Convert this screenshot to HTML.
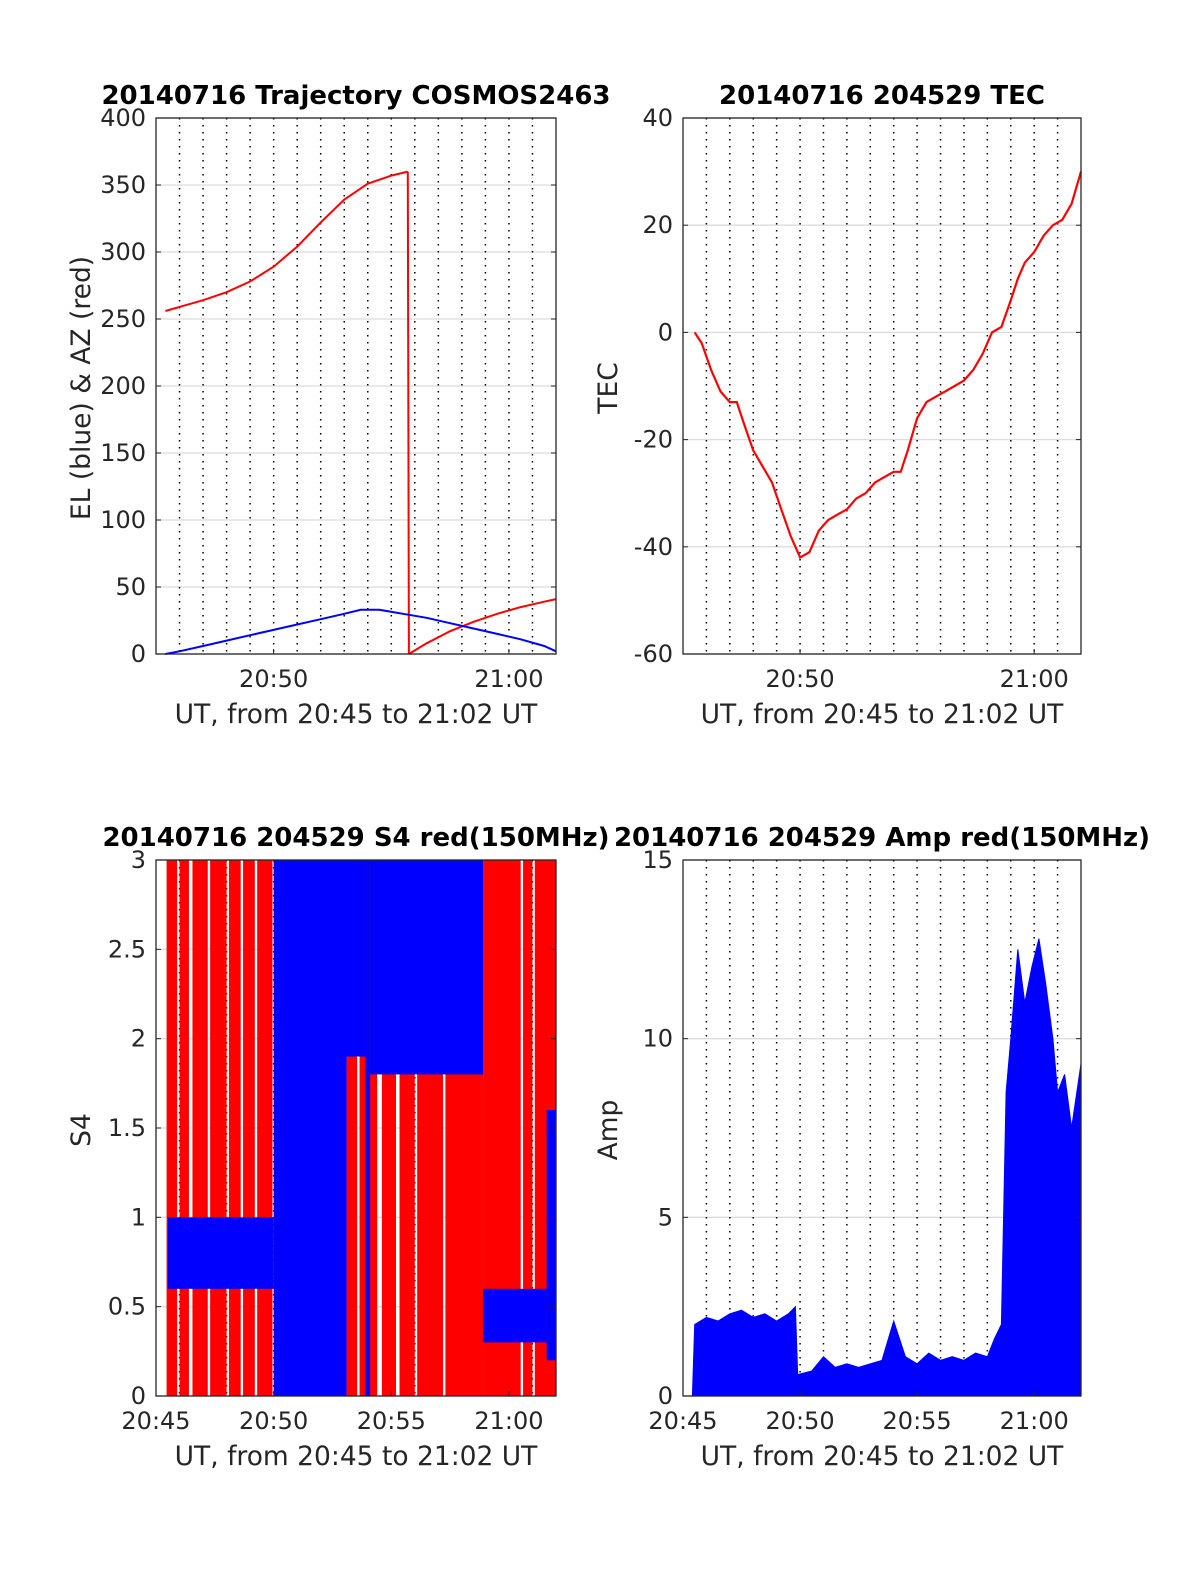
<!DOCTYPE html>
<html><head><meta charset="utf-8"><style>
body{margin:0;background:#fff}
svg text{font-family:"DejaVu Sans","Liberation Sans",sans-serif;fill:#262626}
</style></head><body>
<svg id="fig" width="1200" height="1575" viewBox="0 0 1200 1575" xmlns="http://www.w3.org/2000/svg"></svg>
<script>
// ---- data (minutes after 20:00) ----
const azTimes=[45.4,46,47,48,49,50,51,52,53,54,55,55.7];
const azVals=[256,259,264,270,278,289,304,322,339,351,357,360];
const az2Times=[55.75,56.5,57.5,58.5,59.5,60.5,61.5,62];
const az2Vals=[0,8,17,24,30,35,39,41];
const elTimes=[45.4,46,47,48,49,50,51,52,53,53.7,54.5,55.5,56.5,57.5,58.5,59.5,60.5,61.5,62];
const elVals=[0,2,6,10,14,18,22,26,30,33,33,30,27,23,19,15,11,6,2];
const tecTimes=[45.5,45.8,46.2,46.6,47,47.3,47.6,48,48.4,48.8,49.2,49.6,50,50.4,50.8,51.2,51.6,52,52.4,52.8,53.2,53.6,54,54.3,54.6,55,55.4,55.8,56.2,56.6,57,57.4,57.8,58.2,58.6,59,59.3,59.6,60,60.4,60.8,61.2,61.6,62];
const tecVals=[0,-2,-7,-11,-13,-13,-17,-22,-25,-28,-33,-38,-42,-41,-37,-35,-34,-33,-31,-30,-28,-27,-26,-26,-22,-16,-13,-12,-11,-10,-9,-7,-4,0,1,6,10,13,15,18,20,21,24,30];
const s4RedSpans=[[45.45,45.9],[46.0,46.4],[46.55,47.2],[47.3,48.0],[48.1,48.6],[48.7,49.2],[49.3,49.95],[53.1,53.55],[53.65,54.4],[54.6,55.2],[55.35,56.0],[56.1,57.2],[57.3,58.9],[58.9,60.5],[60.6,61.0],[61.1,62.0]];
const s4BlueBands=[[45.5,50.0,0.6,1.0],[50.0,53.1,0,3],[53.0,53.9,1.9,3],[53.9,54.1,0,3],[54.1,58.9,1.8,3],[58.9,61.6,0.3,0.6],[61.6,62.0,0.2,1.6]];
const ampTimes=[45.4,45.5,46,46.5,47,47.5,48,48.5,49,49.5,49.8,49.9,50.5,51,51.5,52,52.5,53,53.5,54,54.5,55,55.5,56,56.5,57,57.5,58,58.3,58.6,58.8,59,59.3,59.6,59.9,60.2,60.5,60.8,61,61.3,61.6,62];
const ampVals=[0,2.0,2.2,2.1,2.3,2.4,2.2,2.3,2.1,2.3,2.5,0.6,0.7,1.1,0.8,0.9,0.8,0.9,1.0,2.1,1.1,0.9,1.2,1.0,1.1,1.0,1.2,1.1,1.6,2.0,8.5,10,12.5,11,12,12.8,11.5,10,8.5,9,7.5,9.3];
const yTicksTL=[0,50,100,150,200,250,300,350,400];
const yTicksTR=[-60,-40,-20,0,20,40];
const yTicksBL=[0,0.5,1,1.5,2,2.5,3];
const yTicksBR=[0,5,10,15];

const svg=document.getElementById('fig');
const NS='http://www.w3.org/2000/svg';
function el(tag,attrs,parent){const e=document.createElementNS(NS,tag);for(const k in attrs)e.setAttribute(k,attrs[k]);(parent||svg).appendChild(e);return e;}
function txt(s,attrs,parent){const t=el('text',attrs,parent);t.textContent=s;return t;}

function panel(name,x0,y0,w,h,ymin,ymax,yticks,xtickMins,title,ylabel){
  const g=el('g',{});
  
  
  const X=m=>x0+(m-45)/17*w;
  const Y=v=>y0+h-(v-ymin)/(ymax-ymin)*h;
  el('rect',{x:x0,y:y0,width:w,height:h,fill:'#fff'},g);
  yticks.forEach(v=>{el('line',{x1:x0,x2:x0+w,y1:Y(v),y2:Y(v),stroke:'#dcdcdc','stroke-width':1.3},g);});
  for(let m=46;m<=61;m++){el('line',{x1:X(m),x2:X(m),y1:y0,y2:y0+h,stroke:'#000','stroke-width':1.5,'stroke-dasharray':'1.5 5.5'},g);}
  return {g,X,Y,finish(){
    el('rect',{x:x0,y:y0,width:w,height:h,fill:'none',stroke:'#262626','stroke-width':1.3},g);
    yticks.forEach(v=>{
      el('line',{x1:x0,x2:x0+5,y1:Y(v),y2:Y(v),stroke:'#262626'},g);
      el('line',{x1:x0+w-5,x2:x0+w,y1:Y(v),y2:Y(v),stroke:'#262626'},g);
      const t=txt(String(v),{x:x0-10,y:Y(v)+8,'text-anchor':'end','font-size':24},g);
      
    });
    xtickMins.forEach(m=>{
      const hh=Math.floor(m/60)+20, mm=m%60;
      el('line',{x1:X(m),x2:X(m),y1:y0+h-5,y2:y0+h,stroke:'#262626'},g);
      const t=txt(hh+':'+String(mm).padStart(2,'0'),{x:X(m),y:y0+h+33,'text-anchor':'middle','font-size':24},g);
      
    });
    const xl=txt('UT, from 20:45 to 21:02 UT',{x:x0+w/2,y:y0+h+69,'text-anchor':'middle','font-size':26.5},g);
    
    const tt=txt(title,{x:x0+w/2,y:y0-14,'text-anchor':'middle','font-size':26,'font-weight':'bold',style:'fill:#000'},g);
    
    const cx=x0-75, cy=y0+h/2+2;
    const yl=txt(ylabel,{x:cx+9,y:cy,'text-anchor':'middle','font-size':26.5,transform:`rotate(-90 ${cx+9} ${cy})`},g);
    
  }};
}
function line(p,ts,vs,color,name,wid){
  const pts=ts.map((t,i)=>p.X(t).toFixed(1)+','+p.Y(vs[i]).toFixed(1)).join(' ');
  const l=el('polyline',{points:pts,fill:'none',stroke:color,'stroke-width':wid||2},p.g);
  
}

const p1=panel('trajectory-panel',156,118,400,536,0,400,yTicksTL,[50,60],'20140716 Trajectory COSMOS2463','EL (blue) & AZ (red)');
line(p1,azTimes,azVals,'#f00','azimuth-line');
line(p1,[azTimes[azTimes.length-1],az2Times[0]],[azVals[azVals.length-1],az2Vals[0]],'#f00','azimuth-wrap');
line(p1,az2Times,az2Vals,'#f00','azimuth-line-2');
line(p1,elTimes,elVals,'#00f','elevation-line');
p1.finish();

const p2=panel('tec-panel',683,118,398,536,-60,40,yTicksTR,[50,60],'20140716 204529 TEC','TEC');
line(p2,tecTimes,tecVals,'#f00','tec-line',2.2);
p2.finish();

const p3=panel('s4-panel',156,860,400,536,0,3,yTicksBL,[45,50,55,60],'20140716 204529 S4 red(150MHz)','S4');
s4RedSpans.forEach(s=>{
  const r=el('rect',{x:p3.X(s[0]),y:p3.Y(3),width:p3.X(s[1])-p3.X(s[0]),height:p3.Y(0)-p3.Y(3),fill:'#f00'},p3.g);
  
});
s4BlueBands.forEach(b=>{
  const r=el('rect',{x:p3.X(b[0]),y:p3.Y(b[3]),width:p3.X(b[1])-p3.X(b[0]),height:p3.Y(b[2])-p3.Y(b[3]),fill:'#00f'},p3.g);
  
});
p3.finish();

const p4=panel('amp-panel',683,860,398,536,0,15,yTicksBR,[45,50,55,60],'20140716 204529 Amp red(150MHz)','Amp');
{
  let d='M'+p4.X(ampTimes[0])+','+p4.Y(0);
  ampTimes.forEach((t,i)=>{d+=' L'+p4.X(t).toFixed(1)+','+p4.Y(ampVals[i]).toFixed(1);});
  d+=' L'+p4.X(62)+','+p4.Y(0)+' Z';
  const a=el('path',{d:d,fill:'#00f',stroke:'#00f','stroke-width':1},p4.g);
  
}
p4.finish();
</script>
</body></html>
